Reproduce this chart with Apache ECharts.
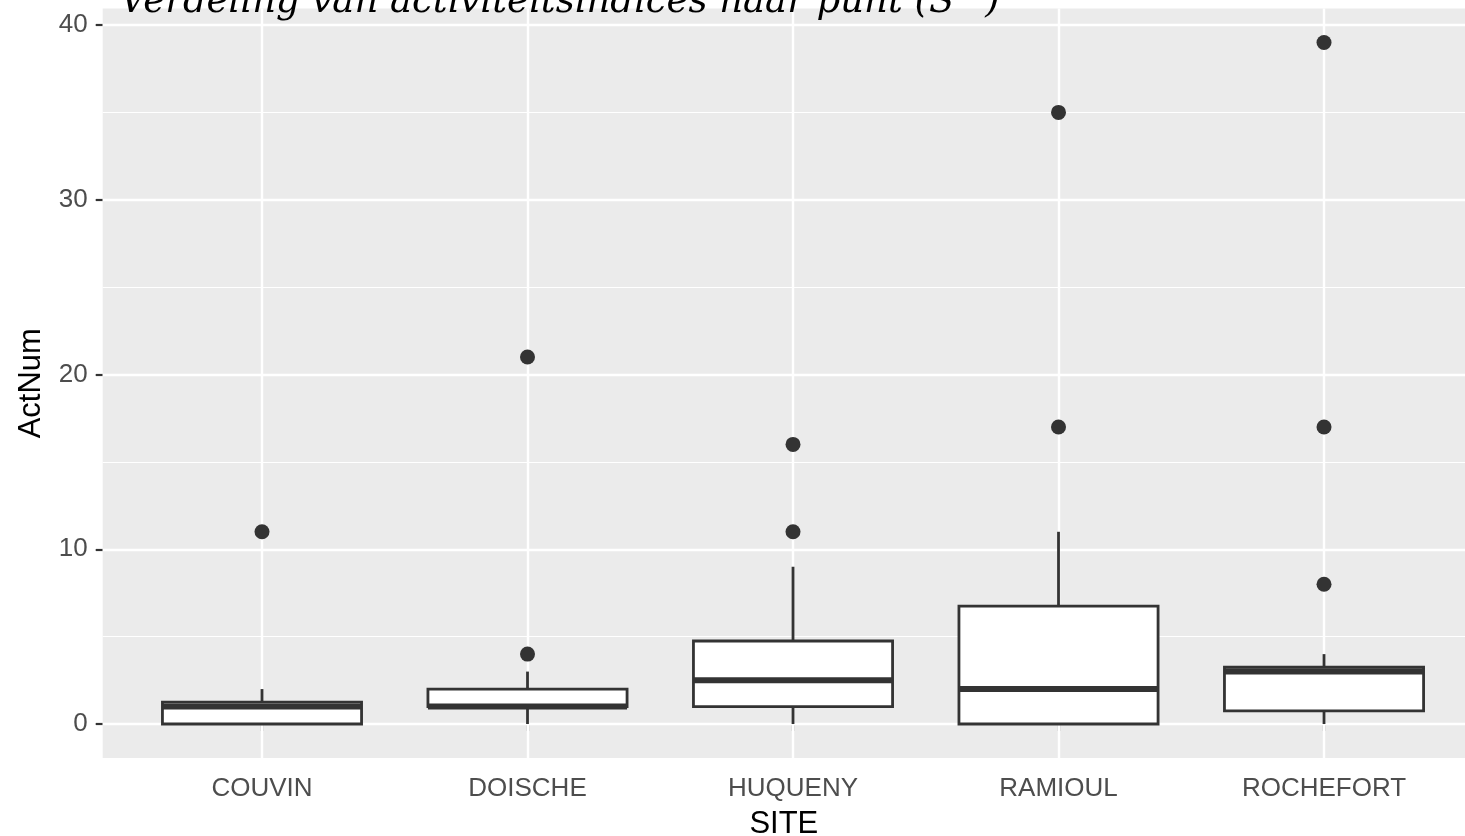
<!DOCTYPE html>
<html>
<head>
<meta charset="utf-8">
<script src="https://cdn.jsdelivr.net/npm/echarts@6/dist/echarts.min.js"></script>
<style>
html,body{margin:0;padding:0;background:#fff;}
#chart{width:1465px;height:836px;}
</style>
</head>
<body>
<div id="chart"></div>
<script>
const titleText = 'Verdeling van activiteitsindices naar punt (S^)';
const categories = ['COUVIN', 'DOISCHE', 'HUQUENY', 'RAMIOUL', 'ROCHEFORT'];
const lowerWhisker = [0, 0, 0, 0, 0];
const q1 = [0, 1, 1, 0, 0.75];
const median = [1, 1, 2.5, 2, 3];
const q3 = [1.25, 2, 4.75, 6.75, 3.25];
const upperWhisker = [2, 3, 9, 11, 4];
const outliers = [[11], [4, 21], [11, 16], [17, 35], [8, 17, 39]];
const yTicks = [0, 10, 20, 30, 40];
const yMinor = [5, 15, 25, 35];

const boxData = categories.map((c, i) => [i + 1, lowerWhisker[i], q1[i], median[i], q3[i], upperWhisker[i]]);
const pointData = [];
outliers.forEach((arr, i) => arr.forEach(v => pointData.push([i + 1, v])));
const xPositions = categories.map((c, i) => i + 1);

const chart = echarts.init(document.getElementById('chart'));
const BOX_W = 0.75;
const INK = '#333333';

function renderBox(params, api) {
  const x = api.value(0);
  const lw = api.value(1), a = api.value(2), m = api.value(3), b = api.value(4), hw = api.value(5);
  const pL = api.coord([x - BOX_W / 2, b]);
  const pR = api.coord([x + BOX_W / 2, a]);
  const pc = api.coord([x, m]);
  const pHW = api.coord([x, hw]);
  const pLW = api.coord([x, lw]);
  const pQ3 = api.coord([x, b]);
  const pQ1 = api.coord([x, a]);
  const children = [];
  if (hw > b) children.push({type: 'line', shape: {x1: pc[0], y1: pHW[1], x2: pc[0], y2: pQ3[1]}, style: {stroke: INK, lineWidth: 2.8}});
  if (lw < a) children.push({type: 'line', shape: {x1: pc[0], y1: pQ1[1], x2: pc[0], y2: pLW[1]}, style: {stroke: INK, lineWidth: 2.8}});
  children.push({type: 'rect', shape: {x: pL[0], y: pL[1], width: pR[0] - pL[0], height: pR[1] - pL[1]}, style: {fill: '#ffffff', stroke: INK, lineWidth: 2.8}});
  children.push({type: 'line', shape: {x1: pL[0], y1: pc[1], x2: pR[0], y2: pc[1]}, style: {stroke: INK, lineWidth: 6}});
  return {type: 'group', children: children};
}

const gridLines = [];
yTicks.forEach(v => gridLines.push({yAxis: v, lineStyle: {width: 2.4}}));
yMinor.forEach(v => gridLines.push({yAxis: v, lineStyle: {width: 1.2}}));
xPositions.forEach(v => gridLines.push({xAxis: v, lineStyle: {width: 2.4}}));

const option = {
  animation: false,
  backgroundColor: '#ffffff',
  grid: {left: 102.7, right: 0, top: 8.4, bottom: 77.9, show: true, backgroundColor: '#EBEBEB', borderWidth: 0,
    containLabel: false, outerBoundsMode: 'none'},
  graphic: [{
    type: 'text', left: 120, top: -16, z: 100,
    style: {text: titleText, font: 'italic 37px "DejaVu Serif"', fill: '#000'}
  }],
  xAxis: {
    type: 'value', min: 0.4, max: 5.531,
    name: 'SITE', nameLocation: 'middle', nameGap: 51,
    nameTextStyle: {fontFamily: 'Liberation Sans', fontSize: 31, color: '#000'},
    axisLine: {show: false},
    axisTick: {show: true, customValues: xPositions, length: 7, lineStyle: {color: INK, width: 2.2}},
    axisLabel: {customValues: xPositions, formatter: v => categories[Math.round(v) - 1] || '', margin: 18,
      fontFamily: 'Liberation Sans', fontSize: 26, color: '#4D4D4D'},
    splitLine: {show: false}
  },
  yAxis: {
    type: 'value', min: -1.95, max: 40.95,
    name: 'ActNum', nameLocation: 'middle', nameGap: 56,
    nameTextStyle: {fontFamily: 'Liberation Sans', fontSize: 31, color: '#000'},
    axisLine: {show: false},
    axisTick: {show: true, customValues: yTicks, length: 7, lineStyle: {color: INK, width: 2.2}},
    axisLabel: {customValues: yTicks, margin: 15, fontFamily: 'Liberation Sans', fontSize: 26, color: '#4D4D4D'},
    splitLine: {show: false}
  },
  series: [
    {
      type: 'line', data: [], z: 1, silent: true,
      markLine: {silent: true, z: 1, symbol: ['none', 'none'], label: {show: false}, animation: false,
        lineStyle: {color: '#ffffff', type: 'solid'}, emphasis: {disabled: true}, data: gridLines}
    },
    {type: 'custom', z: 10, renderItem: renderBox, data: boxData, silent: true, clip: false},
    {type: 'scatter', z: 11, data: pointData, symbol: 'circle', symbolSize: 15, itemStyle: {color: INK, opacity: 1}, silent: true}
  ]
};
chart.setOption(option);
</script>
</body>
</html>
